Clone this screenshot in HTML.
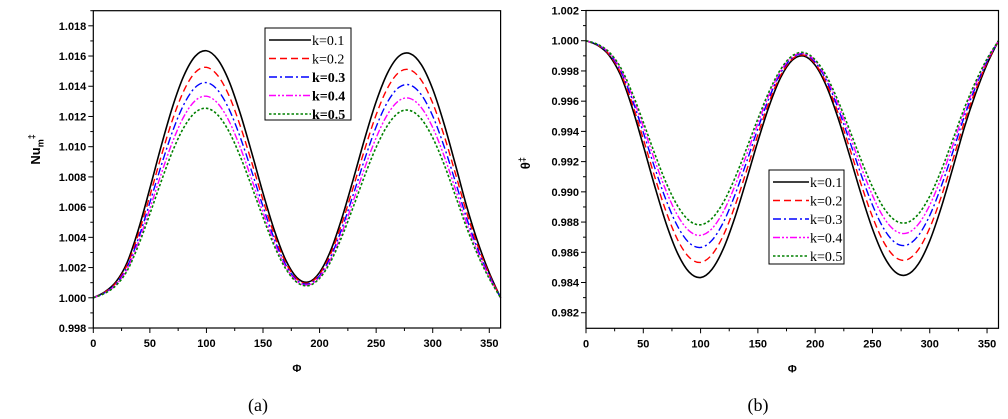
<!DOCTYPE html>
<html><head><meta charset="utf-8"><style>
html,body{margin:0;padding:0;background:#fff;}
svg{display:block;}
.tk{font-family:"Liberation Sans",sans-serif;font-weight:bold;font-size:11px;fill:#000;}
.lg{font-family:"Liberation Serif",serif;font-size:14px;fill:#000;}
</style></head><body>
<svg id="fig" width="1008" height="419" viewBox="0 0 1008 419" xmlns="http://www.w3.org/2000/svg">
<g id="pa"></g>
<g id="pb"></g>
<text x="258" y="411" text-anchor="middle" style="font-family:'Liberation Serif',serif;font-size:18px">(a)</text>
<text x="758" y="411" text-anchor="middle" style="font-family:'Liberation Serif',serif;font-size:18px">(b)</text>
</svg>
<script>
const phi = [0,10,20,30,40,50,60,70,80,90,100,110,120,130,140,150,160,170,180,190,200,210,220,230,240,250,260,270,280,290,300,310,320,330,340,350,360];
const seriesLabels = ["k=0.1","k=0.2","k=0.3","k=0.4","k=0.5"];
// panel a: Nu (thousandths above 1)
const nuK1 = [0,.38,1.05,2.35,4.55,7.24,10.04,12.63,14.69,15.98,16.35,15.77,14.33,12.17,9.61,6.93,4.47,2.51,1.33,1.04,1.68,3.16,5.34,7.90,10.56,12.98,14.87,15.98,16.16,15.42,13.81,11.52,8.83,6.05,3.65,1.65,0];
const nuK2 = [0,.36,.98,2.19,4.25,6.75,9.37,11.78,13.70,14.91,15.25,14.71,13.37,11.35,8.97,6.47,4.17,2.34,1.24,.97,1.57,2.95,4.98,7.37,9.85,12.11,13.87,14.91,15.08,14.39,12.88,10.75,8.24,5.64,3.41,1.54,0];
const nuK3 = [0,.33,.91,2.05,3.96,6.31,8.74,11.00,12.79,13.92,14.24,13.74,12.48,10.60,8.37,6.04,3.89,2.19,1.16,.91,1.46,2.75,4.65,6.88,9.20,11.31,12.95,13.92,14.08,13.43,12.03,10.03,7.69,5.27,3.18,1.44,0];
const nuK4 = [0,.31,.86,1.92,3.71,5.91,8.19,10.31,11.99,13.04,13.34,12.87,11.69,9.93,7.84,5.65,3.65,2.05,1.09,.85,1.37,2.58,4.36,6.45,8.62,10.59,12.13,13.04,13.19,12.58,11.27,9.40,7.20,4.94,2.98,1.35,0];
const nuK5 = [0,.29,.81,1.80,3.49,5.55,7.70,9.69,11.27,12.26,12.54,12.10,10.99,9.33,7.37,5.32,3.43,1.93,1.02,.80,1.29,2.42,4.10,6.06,8.10,9.96,11.40,12.26,12.39,11.83,10.59,8.84,6.77,4.64,2.80,1.27,0];
// panel b: theta deficit (thousandths below 1)
const thK1 = [0,.30,.95,2.25,4.36,6.94,9.63,12.11,14.08,15.31,15.67,15.12,13.74,11.68,9.22,6.65,4.29,2.42,1.29,1.01,1.62,3.04,5.12,7.58,10.13,12.45,14.26,15.31,15.49,14.78,13.24,11.04,8.46,5.79,3.50,1.55,0];
const thK2 = [0,.28,.89,2.10,4.08,6.50,9.01,11.33,13.18,14.33,14.67,14.15,12.86,10.93,8.63,6.22,4.02,2.27,1.21,.95,1.52,2.85,4.79,7.09,9.48,11.65,13.35,14.33,14.50,13.83,12.39,10.33,7.92,5.42,3.28,1.45,0];
const thK3 = [0,.26,.83,1.96,3.81,6.06,8.41,10.57,12.29,13.37,13.68,13.20,12.00,10.20,8.05,5.81,3.75,2.11,1.13,.88,1.41,2.65,4.47,6.62,8.84,10.87,12.45,13.37,13.52,12.90,11.56,9.64,7.39,5.05,3.06,1.35,0];
const thK4 = [0,.25,.78,1.85,3.58,5.70,7.92,9.95,11.57,12.58,12.88,12.43,11.29,9.60,7.58,5.47,3.53,1.99,1.06,.83,1.33,2.50,4.21,6.23,8.33,10.23,11.72,12.58,12.73,12.15,10.88,9.07,6.95,4.76,2.88,1.27,0];
const thK5 = [0,.23,.74,1.75,3.39,5.39,7.48,9.41,10.94,11.90,12.18,11.75,10.68,9.08,7.16,5.17,3.33,1.88,1.00,.78,1.26,2.36,3.98,5.89,7.87,9.67,11.08,11.90,12.04,11.48,10.29,8.58,6.57,4.50,2.72,1.20,0];
const xTicks = [0,50,100,150,200,250,300,350];
const yTicksA = ["0.998","1.000","1.002","1.004","1.006","1.008","1.010","1.012","1.014","1.016","1.018"];
const yTicksB = ["0.982","0.984","0.986","0.988","0.990","0.992","0.994","0.996","0.998","1.000","1.002"];

const styles = [
  {c:"#000",d:"",w:1.6},
  {c:"#ff0000",d:"7,4",w:1.4},
  {c:"#0000ff",d:"8,3,2,3",w:1.4},
  {c:"#ff00ff",d:"7,2,2,2,2,2",w:1.4},
  {c:"#008000",d:"2.5,2",w:1.6}
];
const NS="http://www.w3.org/2000/svg";
function mk(p,tag,a){const e=document.createElementNS(NS,tag);for(const k in a)e.setAttribute(k,a[k]);p.appendChild(e);return e;}
function crPath(pts){let d="M"+pts[0][0].toFixed(2)+","+pts[0][1].toFixed(2);
  for(let i=0;i<pts.length-1;i++){const p0=pts[Math.max(0,i-1)],p1=pts[i],p2=pts[i+1],p3=pts[Math.min(pts.length-1,i+2)];
    const c1=[p1[0]+(p2[0]-p0[0])/6,p1[1]+(p2[1]-p0[1])/6],c2=[p2[0]-(p3[0]-p1[0])/6,p2[1]-(p3[1]-p1[1])/6];
    d+="C"+c1[0].toFixed(2)+","+c1[1].toFixed(2)+" "+c2[0].toFixed(2)+","+c2[1].toFixed(2)+" "+p2[0].toFixed(2)+","+p2[1].toFixed(2);}
  return d;}

function panel(g,cfg){
  const X=v=>cfg.x0+(v-0)/(360)*(cfg.x1-cfg.x0);
  const Y=v=>cfg.yb+(v-cfg.vmin)/(cfg.vmax-cfg.vmin)*(cfg.yt-cfg.yb);
  cfg.series.forEach((arr,i)=>{
    const pts=phi.map((p,j)=>[X(p),Y(cfg.toVal(arr[j]))]);
    const s=styles[i];
    const e=mk(g,"path",{d:crPath(pts),fill:"none",stroke:s.c,"stroke-width":s.w});
    if(s.d)e.setAttribute("stroke-dasharray",s.d);
    
    
  });
  const fr=mk(g,"rect",{x:cfg.x0,y:cfg.yt,width:cfg.x1-cfg.x0,height:cfg.yb-cfg.yt,fill:"none",stroke:"#000","stroke-width":1.2});
  
  
  for(let v=0;v<=360;v+=25){const x=X(v);const maj=v%50===0;
    mk(g,"line",{x1:x,y1:cfg.yb,x2:x,y2:cfg.yb+(maj?5:3),stroke:"#000","stroke-width":1});}
  xTicks.forEach(v=>{const t=mk(g,"text",{x:X(v),y:cfg.yb+19,"text-anchor":"middle",class:"tk"});t.textContent=v;
    
    });
  cfg.yticks.forEach((lab,i)=>{const y=Y(parseFloat(lab));
    mk(g,"line",{x1:cfg.x0-5,y1:y,x2:cfg.x0,y2:y,stroke:"#000","stroke-width":1});
    const ym=Y(parseFloat(lab)+0.001); if(ym>=cfg.yt-0.5) mk(g,"line",{x1:cfg.x0-3,y1:ym,x2:cfg.x0,y2:ym,stroke:"#000","stroke-width":1});
    const t=mk(g,"text",{x:cfg.x0-7,y:y+4,"text-anchor":"end",class:"tk"});t.textContent=lab;
    
    });
  const xt=mk(g,"text",{x:(cfg.x0+cfg.x1)/2,y:cfg.yb+44,"text-anchor":"middle",class:"tk"});xt.textContent="Φ";
  
  
  const L=cfg.leg;
  const lb=mk(g,"rect",{x:L.x,y:L.y,width:L.w,height:L.h,fill:"#fff",stroke:"#000","stroke-width":1});
  
  
  seriesLabels.forEach((lab,i)=>{const y=L.y+12+i*L.dy;const s=styles[i];
    const ln=mk(g,"line",{x1:L.x+4,y1:y,x2:L.x+L.lw,y2:y,stroke:s.c,"stroke-width":s.w});
    if(s.d)ln.setAttribute("stroke-dasharray",s.d);
    const t=mk(g,"text",{x:L.x+L.lw+1,y:y+5,class:"lg"});t.textContent=lab;
    if(cfg.id==="panel-a"&&i>=2){t.setAttribute("font-weight","bold");}
    
    });
}
panel(document.getElementById("pa"),{id:"panel-a",x0:93.3,x1:500.6,yt:10.7,yb:328,vmin:0.998,vmax:1.019,
  series:[nuK1,nuK2,nuK3,nuK4,nuK5],toVal:v=>1+v/1000,yticks:yTicksA,
  leg:{x:265,y:28,w:86,h:92,dy:18.5,lw:46}});
panel(document.getElementById("pb"),{id:"panel-b",x0:586,x1:998.5,yt:10.5,yb:328.3,vmin:0.98097,vmax:1.002,
  series:[thK1,thK2,thK3,thK4,thK5],toVal:v=>1-v/1000,yticks:yTicksB,
  leg:{x:769,y:170,w:75,h:94,dy:18.5,lw:40}});
</script>
<div style="position:absolute;left:16px;top:140px;transform:rotate(-90deg);transform-origin:center;font-family:'Liberation Sans',sans-serif;font-weight:bold;font-size:13px;width:40px;text-align:center">Nu<sub style="font-size:9px">m</sub><sup style="font-size:9px">‡</sup></div>
<div style="position:absolute;left:505px;top:155px;transform:rotate(-90deg);transform-origin:center;font-family:'Liberation Sans',sans-serif;font-weight:bold;font-size:13px;width:40px;text-align:center">θ<sup style="font-size:9px">‡</sup></div>
</body></html>
